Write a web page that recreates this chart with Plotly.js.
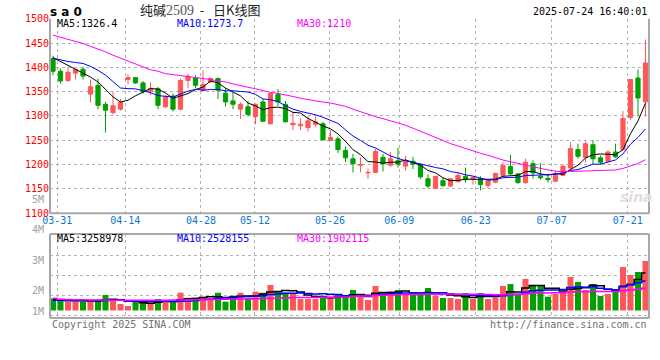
<!DOCTYPE html>
<html><head><meta charset="utf-8">
<script src="https://cdn.plot.ly/plotly-3.0.1.min.js"></script>
<style>html,body{margin:0;padding:0;background:#fff}#chart{width:660px;height:360px}</style>
</head><body><div id="chart"></div>
<script>
// ---- data ----
const tickLabels = ['03-31','04-14','04-28','05-12','05-26','06-09','06-23','07-07','07-21'];
const tickPos    = [0.57, 9.64, 19.73, 26.93, 36.93, 46.17, 56.36, 66.49, 76.63];

const openPx  = [1418,1392,1373,1388,1396,1345,1363,1324,1307,1314,1375,1379,1368,1351,1356,1319,1341,1314,1373,1378,
                 1352,1370,1377,1347,1331,1314,1319,1299,1329,1284,1344,1324,1282,1280,1276,1283,1284,1250,1253,1229,
                 1212,1199,1183,1184,1215,1199,1208,1197,1207,1200,1171,1151,1167,1156,1165,1176,1171,1171,1157,1164,
                 1178,1196,1181,1163,1202,1176,1172,1166,1178,1193,1231,1215,1241,1214,1207,1226,1231,1297,1378,1329];
const highPx  = [1424,1398,1400,1396,1401,1375,1377,1329,1350,1335,1386,1380,1372,1369,1360,1343,1346,1377,1387,1384,
                 1394,1379,1379,1357,1350,1328,1331,1326,1335,1348,1355,1331,1309,1295,1299,1299,1288,1271,1258,1237,
                 1222,1215,1192,1233,1222,1226,1235,1218,1216,1202,1180,1177,1173,1172,1183,1194,1176,1176,1169,1183,
                 1205,1220,1183,1212,1209,1203,1179,1188,1200,1246,1243,1248,1250,1219,1229,1243,1310,1376,1396,1457];
const lowPx   = [1384,1367,1370,1375,1375,1328,1314,1266,1303,1311,1365,1366,1346,1343,1314,1316,1309,1312,1357,1357,
                 1351,1368,1335,1319,1314,1294,1299,1283,1288,1282,1321,1287,1271,1271,1268,1278,1250,1249,1224,1205,
                 1184,1184,1171,1183,1186,1196,1194,1188,1191,1171,1152,1150,1154,1154,1164,1163,1159,1147,1151,1162,
                 1176,1179,1161,1161,1171,1169,1163,1165,1176,1190,1212,1205,1201,1200,1205,1214,1229,1292,1299,1299];
const closePx = [1392,1372,1390,1396,1382,1360,1322,1312,1321,1328,1379,1368,1350,1357,1322,1339,1314,1373,1382,1363,
                 1365,1377,1353,1329,1324,1324,1303,1324,1289,1346,1329,1288,1285,1283,1290,1288,1251,1256,1231,1214,
                 1202,1200,1184,1227,1202,1212,1201,1207,1201,1175,1156,1176,1157,1171,1178,1169,1174,1159,1167,1182,
                 1198,1181,1163,1205,1183,1173,1169,1178,1197,1233,1217,1243,1212,1205,1226,1216,1295,1375,1337,1409];
// volume, millions of lots
const volumeM = [1.05,0.905,0.76,0.76,0.76,0.905,0.905,1.34,0.905,0.56,0.39,0.76,0.71,0.71,0.99,0.71,0.71,1.53,1.10,1.10,
                 1.19,1.05,1.53,0.76,1.28,1.53,1.10,1.63,1.53,2.20,1.68,1.53,1.53,0.99,0.99,0.99,1.28,1.19,1.34,1.19,
                 1.77,1.42,0.905,2.11,1.51,1.68,1.77,1.34,1.34,1.34,1.94,1.28,1.08,1.08,0.99,1.51,0.99,1.51,0.99,1.19,
                 2.11,2.28,1.42,2.72,2.20,2.11,1.19,1.42,1.51,2.89,2.46,1.77,2.28,1.25,1.42,1.77,3.75,3.06,3.32,4.27];

// moving-average values at the start of the window (depend on earlier, unseen days)
const ma5Head  = [1420,1412,1404,1396];
const ma10Head = [1419,1415,1412,1410,1408,1402,1394,1384,1370];
const ma30Head = [1466,1462,1458,1453,1449,1443,1438,1432,1425,1419,1413,1407,1401,1395,1392,1387,1385,1383,1382,1380,
                  1378,1375,1372,1370,1366,1362,1359,1356,1352];
const vma5Head  = [0.92,0.90,0.87,0.85];
const vma10Head = [0.88,0.88,0.87,0.87,0.86,0.86,0.86,0.87,0.88];
const vma30Head = [1.05,0.98,0.95,0.93,0.92,0.91,0.90,0.90,0.89,0.89,0.88,0.88,0.88,0.88,0.89,0.89,0.90,0.90,0.91,0.92,
                   0.93,0.94,0.95,0.96,0.97,0.99,1.00,1.02,1.03];

const titleParts = ['纯碱', '2509', ' - ', '日K线图'];
const symbolText = 's a 0';
const stampText = '2025-07-24 16:40:01';
const priceMaLabels = ['MA5:1326.4','MA10:1273.7','MA30:1210'];
const volMaLabels   = ['MA5:3258978','MA10:2528155','MA30:1902115'];
const volTickText   = ['5M','4M','3M','2M','1M'];
const footLeft  = 'Copyright 2025 SINA.COM';
const footRight = 'http://finance.sina.com.cn';

// ---- styles ----
const RED = '#ff5757', GREEN = '#00a000';
const MA_COLORS = ['#000000','#0000ff','#ff00ff'];
const GRID = '#b4b4b4', FRAME = '#a8a8a8';
const MONO = 'DejaVu Sans Mono';
const W = 660, H = 360, ML = 50, MR = 11;
const px2x = x => (x - ML) / (W - ML - MR);
const px2y = y => (H - y) / H;

function movingAvg(src, n, head) {
  return src.map((v, i) => {
    if (i < n - 1) return head[i];
    let s = 0; for (let k = i - n + 1; k <= i; k++) s += src[k];
    return s / n;
  });
}
const xIdx = closePx.map((_, i) => i);

const traces = [{
  type: 'candlestick', x: xIdx, open: openPx, high: highPx, low: lowPx, close: closePx,
  increasing: {line: {color: RED, width: 1}, fillcolor: RED},
  decreasing: {line: {color: GREEN, width: 1}, fillcolor: GREEN},
  whiskerwidth: 0, hoverinfo: 'skip', xaxis: 'x', yaxis: 'y'
}];
[[5, ma5Head], [10, ma10Head], [30, ma30Head]].forEach(([n, head], k) => {
  traces.push({type: 'scatter', mode: 'lines', x: xIdx, y: movingAvg(closePx, n, head),
    line: {color: MA_COLORS[k], width: 1}, hoverinfo: 'skip', xaxis: 'x', yaxis: 'y'});
});
traces.push({type: 'bar', x: xIdx, y: volumeM, width: 0.8,
  marker: {color: closePx.map((c, i) => c >= openPx[i] ? RED : GREEN), line: {width: 0}},
  hoverinfo: 'skip', xaxis: 'x2', yaxis: 'y2'});
[[5, vma5Head], [10, vma10Head], [30, vma30Head]].forEach(([n, head], k) => {
  traces.push({type: 'scatter', mode: 'lines', x: xIdx, y: movingAvg(volumeM, n, head),
    line: {color: MA_COLORS[k], width: 1.5, shape: 'hvh'}, hoverinfo: 'skip', xaxis: 'x2', yaxis: 'y2'});
});

const gridAxis = {showgrid: true, gridcolor: GRID, griddash: 'dot', gridwidth: 1, zeroline: false, showline: false, ticks: '', fixedrange: true};

const annotations = [];
function note(text, x, y, xanchor, color, size, family, weight) {
  annotations.push({text, x: px2x(x), y: px2y(y), xref: 'paper', yref: 'paper',
    xanchor, yanchor: 'middle', showarrow: false,
    font: {family: family || MONO, size: size || 10, color, weight: weight || 'normal'}});
}
note(symbolText, 48, 12, 'left', '#000', 12, 'DejaVu Sans', 'bold');
const titleHtml = titleParts[0] + '<span style="font-family:Liberation Serif;font-size:14px;color:#555">' + titleParts[1] + '</span>'
  + '\u00a0' + titleParts[2] + '\u00a0 ' + titleParts[3];
note(titleHtml, 200, 9, 'center', '#222', 13, 'Noto Sans CJK SC');
note(stampText, 649, 11, 'right', '#000', 10);
const labelX = [55, 175, 295];
priceMaLabels.forEach((t, k) => note(t, labelX[k], 23.5, 'left', MA_COLORS[k], 10));
volMaLabels.forEach((t, k) => note(t, labelX[k], 238.5, 'left', MA_COLORS[k], 10));
const volTickY = [199.5, 230, 260, 290.5, 311];
volTickText.forEach((t, k) => note(t, 46, volTickY[k], 'right', '#a0a0a0', 10));
note(footLeft, 50, 324, 'left', '#707070', 10);
note(footRight, 649, 324, 'right', '#707070', 10);
note('<i><b>sina</b></i>', 636, 197, 'center', '#e6dcdc', 14, 'DejaVu Sans');

const frame = (xr, yr, x0, y0, x1, y1) => ({type: 'line', xref: xr, yref: yr, x0, y0, x1, y1, line: {color: FRAME, width: 2}, layer: 'above'});

const layout = {
  width: W, height: H, margin: {l: ML, r: MR, t: 0, b: 0, pad: 0},
  paper_bgcolor: '#fff', plot_bgcolor: '#fff', showlegend: false,
  boxgap: 0.2, bargap: 0.2,
  xaxis: Object.assign({}, gridAxis, {domain: [0, 1], range: [-0.4, 79.47], anchor: 'y',
    tickmode: 'array', tickvals: tickPos, ticktext: tickLabels, rangeslider: {visible: false},
    tickfont: {family: MONO, size: 10, color: '#0a78d2'}}),
  yaxis: Object.assign({}, gridAxis, {domain: [0.4075, 0.9481], range: [1100, 1500], anchor: 'x',
    tick0: 1100, dtick: 50, tickfont: {family: MONO, size: 10, color: '#ff0000'}}),
  xaxis2: Object.assign({}, gridAxis, {domain: [0, 1], range: [-0.4, 79.47], anchor: 'y2',
    tickmode: 'array', tickvals: tickPos, showticklabels: false, rangeslider: {visible: false}}),
  yaxis2: Object.assign({}, gridAxis, {domain: [0.11667, 0.35], range: [-0.647, 6.595], anchor: 'x2',
    tick0: 1.28, dtick: 1.75, showticklabels: false}),
  shapes: [
    frame('x domain', 'y domain', 0, 0, 0, 1),
    frame('x domain', 'y domain', 0, 0, 1, 0),
    frame('x domain', 'y domain', 1, 0, 1, 1),
    frame('x2 domain', 'y2 domain', 0, 0, 1, 0),
    frame('x2 domain', 'y2 domain', 0, 1, 1, 1),
    frame('x2 domain', 'y2 domain', 0, 0, 0, 1),
    frame('x2 domain', 'y2 domain', 1, 0, 1, 1)
  ],
  annotations
};
Plotly.newPlot('chart', traces, layout, {staticPlot: true, displayModeBar: false});
</script></body></html>
